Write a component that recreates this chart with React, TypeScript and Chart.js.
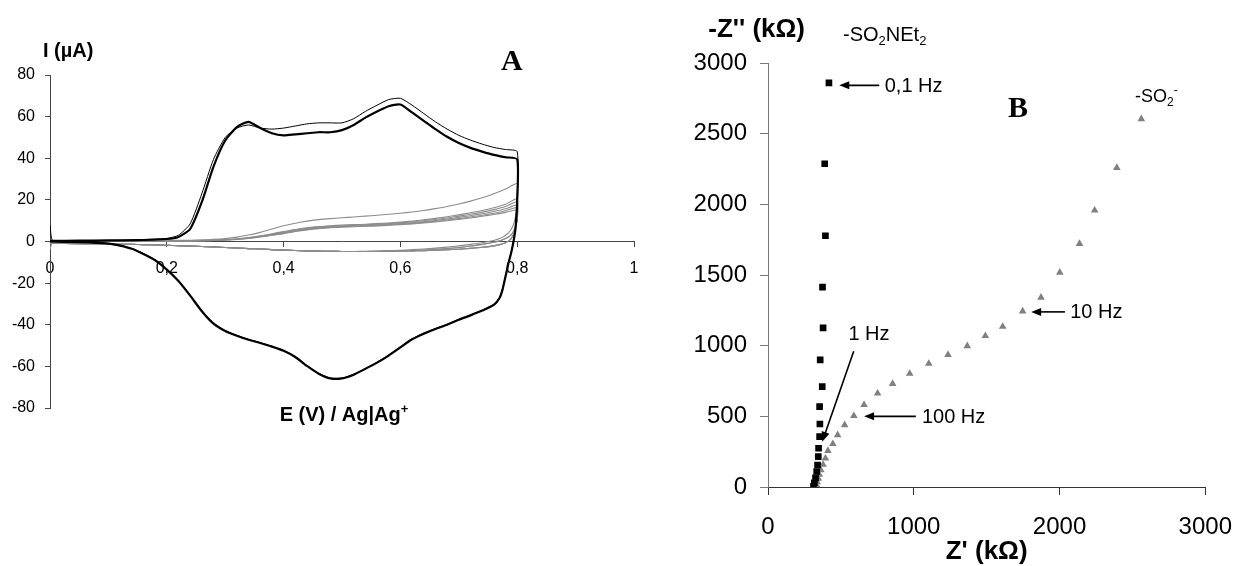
import React, { useEffect, useRef } from 'react';
import { Chart, registerables } from 'chart.js';

Chart.register(...registerables);

const SANS = "'Liberation Sans', Arial, Helvetica, sans-serif";
const SERIF = "'Liberation Serif', 'Times New Roman', serif";
Chart.defaults.font.family = SANS;
Chart.defaults.color = '#000';

// ---------------- Chart A : cyclic voltammograms ----------------
const E_FWD = [0, 0.005, 0.05, 0.1, 0.15, 0.2, 0.22, 0.24, 0.26, 0.28, 0.3, 0.32, 0.34, 0.36, 0.38, 0.4, 0.42, 0.44, 0.46, 0.48, 0.5, 0.52, 0.54, 0.56, 0.58, 0.6, 0.62, 0.64, 0.66, 0.68, 0.7, 0.72, 0.74, 0.76, 0.78, 0.8];
const E_REV = [0.8, 0.797, 0.794, 0.79, 0.785, 0.78, 0.775, 0.77, 0.76, 0.74, 0.72, 0.7, 0.68, 0.66, 0.64, 0.62, 0.6, 0.58, 0.56, 0.54, 0.52, 0.5, 0.48, 0.46, 0.44, 0.42, 0.4, 0.38, 0.36, 0.34, 0.32, 0.3, 0.28, 0.26, 0.24, 0.22, 0.2, 0.18, 0.16, 0.14, 0.12, 0.1, 0.05, 0];

const I_BLACK_THICK_FWD = [0.3, 0.3, 0.4, 0.5, 0.7, 1.2, 2.2, 6, 19, 36, 48.5, 55, 57.5, 54.5, 52, 51, 51.5, 52, 52.5, 52.5, 53.5, 56, 59.5, 62.5, 65, 65.8, 62, 58, 54, 50.3, 47.3, 45, 43.2, 41.6, 40.5, 39.5];
const I_BLACK_THICK_REV = [20, 6, 0.5, -5, -10.5, -16.8, -23, -27, -30.5, -33.2, -35.5, -37.6, -40, -42, -44.3, -47, -50.9, -54.8, -58.2, -61.2, -64, -65.8, -65.8, -63.5, -59.8, -55.5, -52.5, -50.5, -48.8, -47.2, -45.3, -43, -39.5, -33.5, -26, -19, -13.5, -9, -6, -3.5, -2, -1, -0.3, 0];
const I_BLACK_THIN_FWD = [8, 0.3, 0.4, 0.5, 0.8, 1.5, 3, 8.5, 23, 39.5, 50, 54.5, 56, 54.5, 54, 54.5, 55.5, 56.5, 57, 57, 57, 59, 62.5, 65.5, 68.2, 68.8, 65.5, 61.5, 57.5, 54, 51, 48.7, 46.8, 45.2, 44.2, 43.2];
const I_BLACK_THIN_REV = [21, 6.5, 0.8, -4.7, -10.2, -16.5, -22.6, -26.8, -30.2, -33, -35.3, -37.4, -39.8, -41.8, -44, -46.8, -50.6, -54.5, -58, -61, -63.8, -65.6, -65.6, -63.3, -59.6, -55.3, -52.3, -50.3, -48.6, -47, -45.1, -42.8, -39.2, -33.2, -25.8, -18.8, -13.3, -8.8, -5.8, -3.4, -1.9, -0.9, -0.3, 0];

const I_GREY1_FWD = [-4, 0.2, 0.3, 0.35, 0.4, 0.5, 0.55, 0.6, 0.8, 1, 1.4, 2.1, 3.1, 4.4, 6, 7.6, 8.8, 9.8, 10.5, 11, 11.4, 11.8, 12.2, 12.6, 13.1, 13.6, 14.2, 14.9, 15.8, 16.8, 18, 19.4, 21, 22.9, 25.2, 27.8];
const I_GREY2_FWD = [-1, 0.1, 0.15, 0.2, 0.25, 0.3, 0.35, 0.4, 0.5, 0.65, 0.9, 1.3, 1.9, 2.7, 3.7, 4.8, 5.8, 6.6, 7.2, 7.6, 7.9, 8.1, 8.3, 8.6, 8.9, 9.3, 9.8, 10.4, 11.1, 11.9, 12.8, 13.8, 14.9, 16.2, 17.9, 20.5];
const I_GREY3_FWD = [-0.5, 0.1, 0.12, 0.15, 0.2, 0.25, 0.3, 0.35, 0.45, 0.6, 0.85, 1.2, 1.8, 2.5, 3.4, 4.5, 5.5, 6.3, 6.9, 7.3, 7.6, 7.8, 8, 8.3, 8.6, 9, 9.4, 10, 10.6, 11.3, 12.2, 13.1, 14.1, 15.3, 16.8, 19];
const I_GREY4_FWD = [-0.5, 0.05, 0.1, 0.12, 0.15, 0.2, 0.25, 0.3, 0.4, 0.55, 0.8, 1.1, 1.7, 2.4, 3.2, 4.2, 5.2, 6, 6.6, 7, 7.3, 7.5, 7.7, 8, 8.3, 8.6, 9, 9.5, 10.1, 10.8, 11.6, 12.4, 13.3, 14.4, 15.7, 17.5];
const I_GREY5_FWD = [-0.3, 0.05, 0.08, 0.1, 0.12, 0.15, 0.2, 0.25, 0.35, 0.5, 0.75, 1.05, 1.6, 2.3, 3.1, 4, 5, 5.8, 6.4, 6.8, 7.1, 7.3, 7.5, 7.7, 8, 8.3, 8.7, 9.2, 9.7, 10.3, 11, 11.8, 12.6, 13.6, 14.8, 16.3];
const I_GREY6_FWD = [-0.3, 0.05, 0.05, 0.08, 0.1, 0.12, 0.15, 0.2, 0.3, 0.45, 0.7, 1, 1.5, 2.2, 3, 3.8, 4.8, 5.6, 6.2, 6.6, 6.9, 7.1, 7.3, 7.5, 7.8, 8.1, 8.4, 8.9, 9.4, 10, 10.6, 11.3, 12.1, 13, 14, 15.2];

const I_GREY_REV_A = [18, 12, 8.5, 6, 4.2, 3, 2.1, 1.4, 0.5, -0.6, -1.4, -2.1, -2.7, -3.2, -3.6, -3.9, -4.2, -4.4, -4.6, -4.7, -4.8, -4.8, -4.7, -4.6, -4.5, -4.3, -4.1, -3.9, -3.6, -3.4, -3.1, -2.9, -2.6, -2.4, -2.2, -2, -1.8, -1.6, -1.5, -1.4, -1.3, -1.2, -1, -0.9];
const I_GREY_REV_B = [12, 6, 3.5, 1.5, 0.2, -0.6, -1.1, -1.5, -2.1, -2.8, -3.3, -3.7, -4, -4.2, -4.4, -4.5, -4.6, -4.7, -4.8, -4.8, -4.8, -4.8, -4.7, -4.6, -4.5, -4.3, -4.1, -3.9, -3.6, -3.4, -3.1, -2.9, -2.6, -2.4, -2.2, -2, -1.8, -1.6, -1.5, -1.4, -1.3, -1.2, -1, -0.9];
const I_GREY_REV_C = [10, 7, 5, 3.3, 2.2, 1.4, 0.8, 0.3, -0.4, -1.4, -2.2, -2.9, -3.4, -3.8, -4.1, -4.3, -4.5, -4.6, -4.7, -4.8, -4.8, -4.8, -4.7, -4.6, -4.5, -4.3, -4.1, -3.9, -3.6, -3.4, -3.1, -2.9, -2.6, -2.4, -2.2, -2, -1.8, -1.6, -1.5, -1.4, -1.3, -1.2, -1, -0.9];

const A_X_TICKS = [0, 0.2, 0.4, 0.6, 0.8, 1];
const A_Y_TICKS = [-80, -60, -40, -20, 0, 20, 40, 60, 80];

// ---------------- Chart B : Nyquist plot ----------------
const SQ_ZRE = [418, 389, 394, 374, 378, 358, 372, 354, 356, 354, 347, 345, 340, 334, 326, 318, 312];
const SQ_ZIM = [2859, 2287, 1778, 1414, 1126, 899, 710, 569, 446, 356, 274, 215, 156, 110, 65, 30, 5];
const TRI_ZRE = [2561, 2393, 2241, 2137, 2002, 1873, 1747, 1610, 1491, 1367, 1235, 1103, 972, 855, 752, 659, 589, 526, 478, 445, 411, 394, 378, 363, 352, 345, 338, 332, 325];
const TRI_ZIM = [2604, 2259, 1957, 1721, 1518, 1341, 1244, 1135, 1069, 998, 936, 873, 802, 731, 663, 581, 503, 439, 368, 305, 257, 203, 158, 120, 88, 60, 35, 15, 2];
const B_X_TICKS = [0, 1000, 2000, 3000];
const B_Y_TICKS = [0, 500, 1000, 1500, 2000, 2500, 3000];

// annotation arrows of chart B (data units): tail -> head
const B_ARROWS = [
  { x1: 763, y1: 2842, x2: 489, y2: 2842 },
  { x1: 2037, y1: 1239, x2: 1805, y2: 1239 },
  { x1: 1014, y1: 500, x2: 659, y2: 500 },
  { x1: 588, y1: 960, x2: 372, y2: 320 },
];
const B_FREQ_LABELS = [
  { text: '0,1 Hz', x: 794, y: 2842 },
  { text: '10 Hz', x: 2066, y: 1239 },
  { text: '100 Hz', x: 1049, y: 500 },
  { text: '1 Hz', x: 545, y: 1085 },
];

type Part = { t: string; v?: 'sub' | 'sup' };

function drawRich(ctx: CanvasRenderingContext2D, x: number, y: number, parts: Part[], size: number, weight: string, family: string, align: 'left' | 'center' | 'right') {
  const fontFor = (p: Part) => `${weight} ${p.v ? Math.round(size * 0.65) : size}px ${family}`;
  let total = 0;
  for (const p of parts) {
    ctx.font = fontFor(p);
    total += ctx.measureText(p.t).width;
  }
  let cx = align === 'left' ? x : align === 'center' ? x - total / 2 : x - total;
  ctx.textAlign = 'left';
  ctx.textBaseline = 'alphabetic';
  for (const p of parts) {
    ctx.font = fontFor(p);
    const dy = p.v === 'sub' ? size * 0.22 : p.v === 'sup' ? -size * 0.42 : 0;
    ctx.fillText(p.t, cx, y + dy);
    cx += ctx.measureText(p.t).width;
  }
}

function drawArrow(ctx: CanvasRenderingContext2D, x1: number, y1: number, x2: number, y2: number) {
  const ang = Math.atan2(y2 - y1, x2 - x1);
  const L = 10;
  const W = 4;
  ctx.beginPath();
  ctx.moveTo(x1, y1);
  ctx.lineTo(x2 - Math.cos(ang) * L * 0.8, y2 - Math.sin(ang) * L * 0.8);
  ctx.lineWidth = 1.6;
  ctx.strokeStyle = '#000';
  ctx.stroke();
  ctx.beginPath();
  ctx.moveTo(x2, y2);
  ctx.lineTo(x2 - L * Math.cos(ang) + W * Math.sin(ang), y2 - L * Math.sin(ang) - W * Math.cos(ang));
  ctx.lineTo(x2 - L * Math.cos(ang) - W * Math.sin(ang), y2 - L * Math.sin(ang) + W * Math.cos(ang));
  ctx.closePath();
  ctx.fillStyle = '#000';
  ctx.fill();
}

const cycle = (fwd: number[], rev: number[]) => [
  ...E_FWD.map((e, i) => ({ x: e, y: fwd[i] })),
  ...E_REV.map((e, i) => ({ x: e, y: rev[i] })),
];

const fmtComma = (v: any) => String(Math.round(Number(v) * 10) / 10).replace('.', ',');
const fmtPlain = (v: any) => String(Math.round(Number(v)));

const annotA = {
  id: 'annotA',
  afterDraw(chart: any) {
    const ctx: CanvasRenderingContext2D = chart.ctx;
    ctx.save();
    ctx.fillStyle = '#000';
    drawRich(ctx, 43, 57, [{ t: 'I (µA)' }], 20, 'bold', SANS, 'left');
    const ca = chart.chartArea;
    drawRich(ctx, (ca.left + ca.right) / 2 + 2, 421, [{ t: 'E (V) / Ag|Ag' }, { t: '+', v: 'sup' }], 20, 'bold', SANS, 'center');
    drawRich(ctx, 501, 70, [{ t: 'A' }], 30, 'bold', SERIF, 'left');
    ctx.restore();
  },
};

const annotB = {
  id: 'annotB',
  afterDraw(chart: any) {
    const ctx: CanvasRenderingContext2D = chart.ctx;
    const sx = chart.scales.x;
    const sy = chart.scales.y;
    ctx.save();
    for (const a of B_ARROWS) {
      drawArrow(ctx, sx.getPixelForValue(a.x1), sy.getPixelForValue(a.y1), sx.getPixelForValue(a.x2), sy.getPixelForValue(a.y2));
    }
    ctx.fillStyle = '#000';
    ctx.font = `20px ${SANS}`;
    ctx.textAlign = 'left';
    ctx.textBaseline = 'middle';
    for (const l of B_FREQ_LABELS) {
      ctx.fillText(l.text, sx.getPixelForValue(l.x) + 1, sy.getPixelForValue(l.y) + 1);
    }
    const ca = chart.chartArea;
    drawRich(ctx, 145, 37, [{ t: "-Z'' (kΩ)" }], 26, 'bold', SANS, 'right');
    drawRich(ctx, 183, 41, [{ t: '-SO' }, { t: '2', v: 'sub' }, { t: 'NEt' }, { t: '2', v: 'sub' }], 20, 'normal', SANS, 'left');
    drawRich(ctx, 475, 102, [{ t: '-SO' }, { t: '2', v: 'sub' }, { t: '-', v: 'sup' }], 18, 'normal', SANS, 'left');
    drawRich(ctx, 348, 117, [{ t: 'B' }], 30, 'bold', SERIF, 'left');
    drawRich(ctx, (ca.left + ca.right) / 2, 559, [{ t: "Z' (kΩ)" }], 26, 'bold', SANS, 'center');
    ctx.restore();
  },
};

function ChartA() {
  const ref = useRef<HTMLCanvasElement>(null);
  useEffect(() => {
    const grey = '#8c8c8c';
    const greyDs = (fwd: number[], rev: number[]) => ({ data: cycle(fwd, rev), borderColor: grey, borderWidth: 1.1, pointRadius: 0, tension: 0.2 });
    const chart = new Chart(ref.current as HTMLCanvasElement, {
      type: 'line',
      data: {
        datasets: [
          { data: cycle(I_BLACK_THICK_FWD, I_BLACK_THICK_REV), borderColor: '#000', borderWidth: 2.2, pointRadius: 0, tension: 0.2 },
          { data: cycle(I_BLACK_THIN_FWD, I_BLACK_THIN_REV), borderColor: '#000', borderWidth: 1, pointRadius: 0, tension: 0.2 },
          greyDs(I_GREY1_FWD, I_GREY_REV_A),
          greyDs(I_GREY2_FWD, I_GREY_REV_B),
          greyDs(I_GREY3_FWD, I_GREY_REV_C),
          greyDs(I_GREY4_FWD, I_GREY_REV_B),
          greyDs(I_GREY5_FWD, I_GREY_REV_C),
          greyDs(I_GREY6_FWD, I_GREY_REV_B),
        ] as any,
      },
      options: {
        responsive: false,
        animation: false,
        devicePixelRatio: 1,
        layout: { padding: { left: 0, right: 26, top: 75, bottom: 158 } },
        plugins: { legend: { display: false }, tooltip: { enabled: false } },
        scales: {
          x: {
            type: 'linear',
            position: { y: 0 } as any,
            min: 0,
            max: 1,
            afterBuildTicks: (s: any) => { s.ticks = A_X_TICKS.map((v) => ({ value: v })); },
            afterFit: (s: any) => { s.height = 0; },
            ticks: { padding: 12, font: { size: 16 }, color: '#000', callback: fmtComma, maxRotation: 0, autoSkip: false },
            grid: { drawOnChartArea: false, tickLength: 5, color: '#444' },
            border: { color: '#444', width: 1 },
          },
          y: {
            type: 'linear',
            position: 'left',
            min: -80,
            max: 80,
            afterBuildTicks: (s: any) => { s.ticks = A_Y_TICKS.map((v) => ({ value: v })); },
            afterFit: (s: any) => { s.width = 50; },
            ticks: { padding: 10, font: { size: 16 }, color: '#000', autoSkip: false, callback: fmtPlain },
            grid: { drawOnChartArea: false, tickLength: 5, color: '#444' },
            border: { color: '#444', width: 1 },
          },
        },
      } as any,
      plugins: [annotA],
    });
    return () => chart.destroy();
  }, []);
  return <canvas ref={ref} width={660} height={566} style={{ position: 'absolute', left: 0, top: 0, width: 660, height: 566 }} />;
}

function ChartB() {
  const ref = useRef<HTMLCanvasElement>(null);
  useEffect(() => {
    const chart = new Chart(ref.current as HTMLCanvasElement, {
      type: 'scatter',
      data: {
        datasets: [
          { data: SQ_ZRE.map((v, i) => ({ x: v, y: SQ_ZIM[i] })), pointStyle: 'rect', pointRadius: 4.7, backgroundColor: '#000', borderColor: '#000', borderWidth: 0 },
          { data: TRI_ZRE.map((v, i) => ({ x: v, y: TRI_ZIM[i] })), pointStyle: 'triangle', pointRadius: 4.4, backgroundColor: '#808080', borderColor: '#808080', borderWidth: 0 },
        ] as any,
      },
      options: {
        responsive: false,
        animation: false,
        devicePixelRatio: 1,
        layout: { padding: { left: 0, right: 30, top: 63, bottom: 0 } },
        plugins: { legend: { display: false }, tooltip: { enabled: false } },
        scales: {
          x: {
            type: 'linear',
            position: 'bottom',
            min: 0,
            max: 3000,
            afterBuildTicks: (s: any) => { s.ticks = B_X_TICKS.map((v) => ({ value: v })); },
            afterFit: (s: any) => { s.height = 79; },
            ticks: { padding: 18, font: { size: 24 }, color: '#000', maxRotation: 0, autoSkip: false, callback: fmtPlain },
            grid: { drawOnChartArea: false, tickLength: 8, color: '#333' },
            border: { color: '#333', width: 1 },
          },
          y: {
            type: 'linear',
            position: 'left',
            min: 0,
            max: 3000,
            afterBuildTicks: (s: any) => { s.ticks = B_Y_TICKS.map((v) => ({ value: v })); },
            afterFit: (s: any) => { s.width = 108; },
            ticks: { padding: 13, font: { size: 24 }, color: '#000', autoSkip: false, callback: fmtPlain },
            grid: { drawOnChartArea: false, tickLength: 8, color: '#777' },
            border: { color: '#777', width: 1 },
          },
        },
      } as any,
      plugins: [annotB],
    });
    return () => chart.destroy();
  }, []);
  return <canvas ref={ref} width={590} height={566} style={{ position: 'absolute', left: 660, top: 0, width: 590, height: 566 }} />;
}

export default function App() {
  return (
    <div style={{ position: 'fixed', left: 0, top: 0, width: 1250, height: 566, background: '#fff', overflow: 'hidden' }}>
      <ChartA />
      <ChartB />
    </div>
  );
}
